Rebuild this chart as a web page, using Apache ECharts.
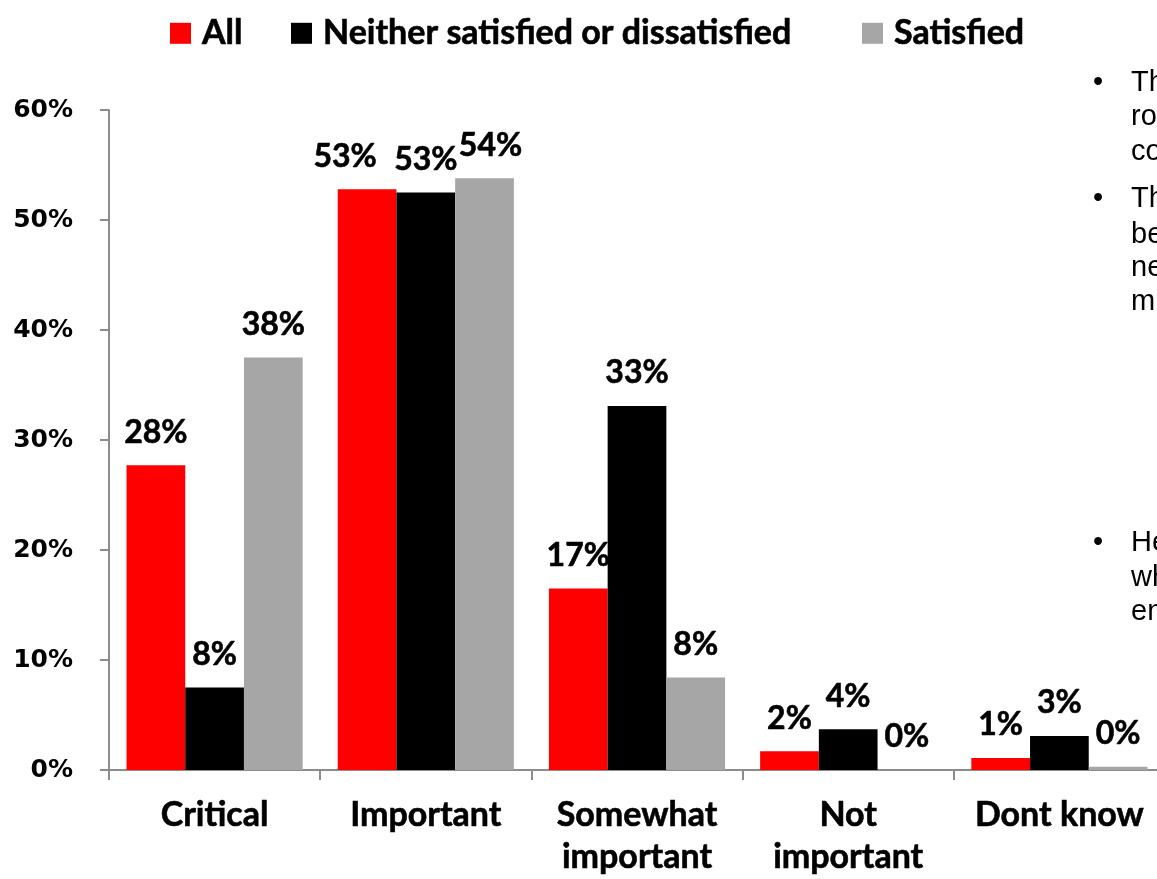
<!DOCTYPE html>
<html>
<head>
<meta charset="utf-8">
<style>html,body{margin:0;padding:0;background:#fff;}#chart{width:1157px;height:879px;}</style>
<script src="https://cdn.jsdelivr.net/npm/echarts@6/dist/echarts.min.js"></script>
</head>
<body>
<div id="chart"></div>
<script>
const categories = ['Critical', 'Important', 'Somewhat\nimportant', 'Not\nimportant', 'Dont know'];
const seriesNames = ['All', 'Neither satisfied or dissatisfied', 'Satisfied'];
const allValues = [27.7, 52.8, 16.5, 1.7, 1.1];
const neitherValues = [7.5, 52.5, 33.1, 3.7, 3.1];
const satisfiedValues = [37.5, 53.8, 8.4, 0, 0.3];
const yTicks = [0, 10, 20, 30, 40, 50, 60];
const sideNotes = [
  {text: 'Th', bullet: true, y: 83},
  {text: 'ro', y: 117},
  {text: 'co', y: 152},
  {text: 'Th', bullet: true, y: 199},
  {text: 'be', y: 235},
  {text: 'ne', y: 268},
  {text: 'm', y: 302},
  {text: 'He', bullet: true, y: 543},
  {text: 'wh', y: 578},
  {text: 'en', y: 612}
];

// layout-only settings
const colors = ['#ff0000', '#000000', '#a6a6a6'];
const legendLefts = [165, 286, 857];
const font = 'Lato, "Open Sans", sans-serif';
const chart = echarts.init(document.getElementById('chart'));

const boldText = {fontFamily: font, fontWeight: 'bold', color: '#000', textBorderColor: '#000', textBorderWidth: 0.6};
const labelCfg = Object.assign({
  show: true, position: 'top', distance: 17, fontSize: 32,
  formatter: p => Math.round(p.value) + '%'
}, boldText);

const sideFont = '"Liberation Sans", Arial, sans-serif';
const graphics = [];
sideNotes.forEach(n => {
  if (n.bullet) graphics.push({type: 'text', x: 1093, y: n.y, style: {text: '•', fontFamily: sideFont, fontSize: 29, fill: '#000', verticalAlign: 'middle'}});
  graphics.push({type: 'text', x: 1131, y: n.y, style: {text: n.text, fontFamily: sideFont, fontSize: 29, fill: '#000', verticalAlign: 'middle'}});
});

const legends = seriesNames.map((name, i) => ({
  top: 11, left: legendLefts[i],
  icon: 'rect', itemWidth: 21, itemHeight: 21,
  textStyle: Object.assign({fontSize: 34, padding: [0, 0, 0, 6]}, boldText),
  data: [name]
}));

// label nudges seen in the original (to avoid overlap)
const allData = allValues.map((v, i) => i === 1 ? {value: v, label: {offset: [-22, 0]}} : v);
const satisfiedData = satisfiedValues.map((v, i) => i === 1 ? {value: v, label: {offset: [6, 0]}} : v);

chart.setOption({
  animation: false,
  color: colors,
  legend: legends,
  grid: {left: 109, top: 110, width: 1056, height: 660, containLabel: false, outerBoundsMode: 'none'},
  xAxis: {
    type: 'category', data: categories,
    axisLine: {lineStyle: {color: '#8c8c8c', width: 2}},
    axisTick: {show: true, length: 10, lineStyle: {color: '#8c8c8c', width: 2}},
    axisLabel: Object.assign({fontSize: 34, margin: 24, lineHeight: 42, interval: 0}, boldText)
  },
  yAxis: {
    type: 'value', min: 0, max: 60, interval: 10,
    splitLine: {show: false},
    axisLine: {show: true, lineStyle: {color: '#8c8c8c', width: 2}},
    axisTick: {show: true, length: 9, lineStyle: {color: '#8c8c8c', width: 2}},
    axisLabel: {fontFamily: '"DejaVu Sans", Verdana, sans-serif', fontWeight: 'bold', fontSize: 25, color: '#000', margin: 36,
      formatter: v => yTicks.includes(v) ? v + '%' : ''}
  },
  series: [
    {name: seriesNames[0], type: 'bar', data: allData, barGap: '0%', barCategoryGap: '16.6%', label: labelCfg},
    {name: seriesNames[1], type: 'bar', data: neitherValues, barGap: '0%', barCategoryGap: '16.6%', label: labelCfg},
    {name: seriesNames[2], type: 'bar', data: satisfiedData, barGap: '0%', barCategoryGap: '16.6%', label: labelCfg}
  ],
  graphic: graphics
});
</script>
</body>
</html>
